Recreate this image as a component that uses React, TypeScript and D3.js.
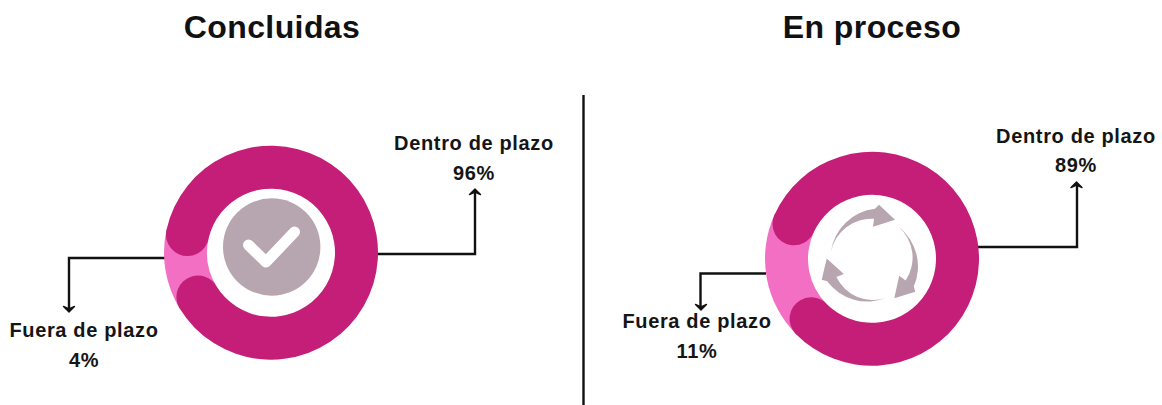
import React from "react";
import * as d3 from "d3";

const titles = ["Concluidas", "En proceso"];
const categories = ["Fuera de plazo", "Dentro de plazo"];
const concluidasValues = [4, 96];
const procesoValues = [11, 89];
const valueLabels = [["4%", "96%"], ["11%", "89%"]];

const DARK = "#C41E79";
const LIGHT = "#F26FC3";
const GREY = "#B7A5AF";
const INK = "#111111";
const R0 = 64;
const R1 = 107;
const CAP = (R1 - R0) / 2;
const deg = Math.PI / 180;

function Ring({ cx, cy, values, start }: { cx: number; cy: number; values: number[]; start: number }) {
  const pie = d3.pie<number>().sort(null).startAngle(start * deg).endAngle((start + 360) * deg);
  const [light, dark] = pie(values);
  const base = d3.arc<any>().innerRadius(R0).outerRadius(R1);
  const rounded = d3.arc<any>().innerRadius(R0).outerRadius(R1).cornerRadius(CAP);
  const pad = 15 * deg;
  return (
    <g transform={`translate(${cx},${cy})`}>
      <path d={base({ startAngle: light.startAngle - pad, endAngle: light.endAngle + pad }) as string} fill={LIGHT} />
      <path d={rounded(dark as any) as string} fill={DARK} />
    </g>
  );
}

function Leader({ d }: { d: string }) {
  return <path d={d} fill="none" stroke={INK} strokeWidth={2.4} strokeLinejoin="miter" />;
}

function Arrow({ x, y, dir }: { x: number; y: number; dir: 1 | -1 }) {
  return (
    <path
      d={`M${x - 5.5},${y - dir * 5.5} L${x},${y} L${x + 5.5},${y - dir * 5.5} L${x},${y - dir * 3} Z`}
      fill={INK}
      stroke={INK}
      strokeWidth={1.4}
      strokeLinejoin="round"
    />
  );
}

function Label({ x, y, name, value }: { x: number; y: number; name: string; value: string }) {
  const style = { fontFamily: "Liberation Sans", fontWeight: 700, fontSize: 20, letterSpacing: 0.65, fill: "#151515", textAnchor: "middle" as const };
  return (
    <g>
      <text x={x} y={y} style={style}>{name}</text>
      <text x={x} y={y + 29.5} style={style}>{value}</text>
    </g>
  );
}

function CycleArrow({ rot }: { rot: number }) {
  return (
    <path
      transform={`rotate(${rot})`}
      d="M-41,-7 A50,50 0 0 1 3,-50 L7,-54 L23,-39 L1,-32 L2,-40 A41,41 0 0 0 -41,-7 Z"
      fill={GREY}
    />
  );
}

const titleStyle = { fontFamily: "Liberation Sans", fontWeight: 700, fontSize: 32, letterSpacing: 0.4, fill: "#111" };

export default function App() {
  return (
    <svg width={1162} height={405} style={{ position: "absolute", left: 0, top: 0, background: "#fff" }}>
      <text x={272} y={38} textAnchor="middle" style={titleStyle}>{titles[0]}</text>
      <text x={872} y={38} textAnchor="middle" style={titleStyle}>{titles[1]}</text>
      <line x1={583.5} x2={583.5} y1={95} y2={405} stroke={INK} strokeWidth={2.4} />

      <Leader d="M165,258 H69 V309" />
      <Arrow x={69} y={312} dir={1} />
      <Leader d="M377,254 H475 V192" />
      <Arrow x={475} y={189} dir={-1} />
      <Leader d="M766,273.5 H700.5 V307" />
      <Arrow x={701} y={310} dir={1} />
      <Leader d="M978,247 H1077 V186" />
      <Arrow x={1076.5} y={182} dir={-1} />

      <Ring cx={271} cy={252.7} values={concluidasValues} start={253.3} />
      <Ring cx={872} cy={258.8} values={procesoValues} start={240} />

      <circle cx={271.7} cy={247} r={48.7} fill={GREY} />
      <path d="M248.5,245 L266,262 L294.5,232" fill="none" stroke="#fff" strokeWidth={11} strokeLinecap="round" strokeLinejoin="round" />

      <g transform="translate(872,258.8)">
        <CycleArrow rot={0} />
        <CycleArrow rot={120} />
        <CycleArrow rot={240} />
      </g>

      <Label x={84} y={337} name={categories[0]} value={valueLabels[0][0]} />
      <Label x={474} y={150} name={categories[1]} value={valueLabels[0][1]} />
      <Label x={697} y={328} name={categories[0]} value={valueLabels[1][0]} />
      <Label x={1076} y={142.5} name={categories[1]} value={valueLabels[1][1]} />
    </svg>
  );
}
